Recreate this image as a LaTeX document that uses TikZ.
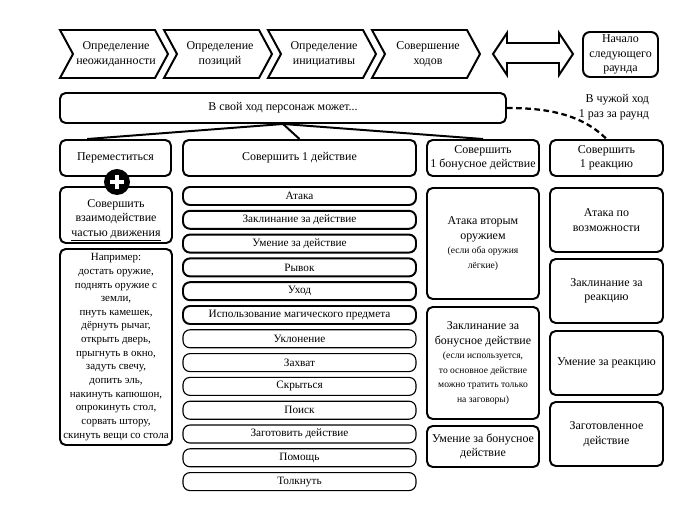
\documentclass[tikz,border=0pt]{standalone}
\usepackage{fontspec}
\setmainfont{Liberation Serif}
\usetikzlibrary{calc}
\newcommand{\mainsize}{\fontsize{8.5}{10.3}\selectfont}
\newcommand{\listsize}{\fontsize{8}{9.9}\selectfont}
\newcommand{\notesize}{\fontsize{6.8}{9}\selectfont}
\tikzset{
  panel/.style={draw,line width=1.4pt,rounded corners=4pt,align=center,inner sep=1pt,font=\mainsize},
  actbox/.style={panel,rounded corners=5pt,font=\listsize},
  thinbox/.style={line width=0.8pt},
  chev/.style={draw,line width=1.4pt,line join=miter},
  link/.style={line width=1.4pt},
  otherturn/.style={line width=1.6pt,dash pattern=on 4pt off 2.5pt},
}
% name, left x, top y, width, height (all in px), text
\newcommand{\panelbox}[7][]{\node[panel,#1,minimum width=#5*0.025cm,minimum height=#6*0.025cm] (#2) at ({#3+#5/2},{#4+#6/2}) {#7};}
\newcommand{\chevron}[3]{\draw[chev] (#2,30) -- ++(95,0) -- ++(13,24) -- ++(-13,24) -- ++(-95,0) -- ++(13,-24) -- cycle;
  \node[align=center,font=\fontsize{8.5}{10.6}\selectfont] (#1) at (#2+56,54) {#3};}

\begin{document}
\begin{tikzpicture}[x=0.025cm,y=-0.025cm]
\useasboundingbox (0,0) rectangle (700,510);
\chevron{surprise}{60}{Определение\\неожиданности}
\chevron{place}{164}{Определение\\позиций}
\chevron{init}{268}{Определение\\инициативы}
\chevron{turns}{372}{Совершение\\ходов}
\draw[chev] (493,54) -- (507,33) -- (507,43) -- (559,43) -- (559,33) -- (573,54) -- (559,75) -- (559,63) -- (507,63) -- (507,75) -- cycle;
\panelbox[rounded corners=5pt]{next}{583}{32}{75}{45}{Начало\\следующего\\раунда}

\panelbox{turn}{60}{93}{446}{30}{В свой ход персонаж может...}
\node[align=right,anchor=east,font=\mainsize] (other) at (654,107) {В чужой ход\\1 раз за раунд};

\panelbox{move}{60}{140}{111}{36}{Переместиться}
\panelbox{act}{183}{140}{233}{36}{Совершить 1 действие}
\panelbox{bonus}{427}{140}{112}{36}{Совершить\\1 бонусное действие}
\panelbox{react}{550}{140}{113}{36}{Совершить\\1 реакцию}
\draw[link] (turn.south) -- ($(move.north west)!0.25!(move.north east)$);
\draw[link] (turn.south) -- (act.north);
\draw[link] (turn.south) -- (bonus.north);
\draw[otherturn] (turn.east) .. controls +(40,0) and +(-25,-25) .. (react.north);

\panelbox{inter}{60}{187}{112}{56}{\rule{0pt}{13pt}Совершить\\взаимодействие\\\underline{частью движения}}
\panelbox[font=\fontsize{7.8}{9.7}\selectfont]{example}{60}{249}{112}{196}{Например:\\достать оружие,\\поднять оружие с\\земли,\\пнуть камешек,\\дёрнуть рычаг,\\открыть дверь,\\прыгнуть в окно,\\задуть свечу,\\допить эль,\\накинуть капюшон,\\опрокинуть стол,\\сорвать штору,\\скинуть вещи со стола}
\node[circle,fill=black,minimum size=26*0.025cm,inner sep=0pt] (plus) at (117,182) {};
\draw[white,line width=2.8pt] ($(plus.center)+(-7,0)$) -- ($(plus.center)+(7,0)$);
\draw[white,line width=2.8pt] ($(plus.center)+(0,-7)$) -- ($(plus.center)+(0,7)$);

\foreach \lbl [count=\i from 0] in {Атака,Заклинание за действие,Умение за действие,Рывок,Уход,Использование магического предмета}
  \panelbox[actbox]{op\i}{183}{187+23.8*\i}{233}{18}{\lbl};
\foreach \lbl [count=\i from 6] in {Уклонение,Захват,Скрыться,Поиск,Заготовить действие,Помощь,Толкнуть}
  \panelbox[actbox,thinbox]{op\i}{183}{187+23.8*\i}{233}{18}{\lbl};

\panelbox{dual}{427}{188}{112}{111}{Атака вторым\\оружием\\\notesize (если оба оружия\\\notesize лёгкие)}
\panelbox{bspell}{427}{307}{112}{112}{Заклинание за\\бонусное действие\\\notesize (если используется,\\\notesize то основное действие\\\notesize можно тратить только\\\notesize на заговоры)}
\panelbox{bskill}{427}{426}{112}{41}{Умение за бонусное\\действие}

\panelbox{opport}{550}{188}{113}{64}{Атака по\\возможности}
\panelbox{rspell}{550}{259}{113}{64}{Заклинание за\\реакцию}
\panelbox{rskill}{550}{331}{113}{64}{Умение за реакцию}
\panelbox{ready}{550}{402}{113}{64}{Заготовленное\\действие}
\end{tikzpicture}
\end{document}
